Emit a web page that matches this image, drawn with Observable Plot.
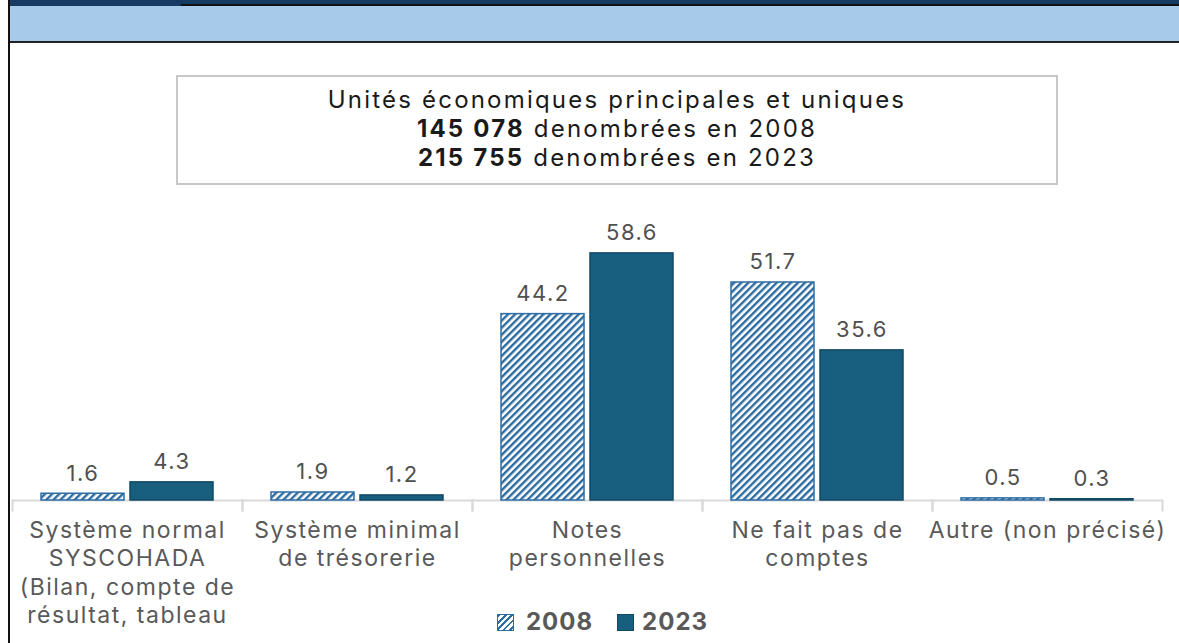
<!DOCTYPE html>
<html><head><meta charset="utf-8">
<script src="https://cdn.jsdelivr.net/npm/d3@7"></script>
<script src="https://cdn.jsdelivr.net/npm/@observablehq/plot@0.6"></script>
<style>
body{margin:0;background:#fff;}
#page{position:relative;width:1179px;height:643px;overflow:hidden;background:#fff;font-family:Inter,"Open Sans",sans-serif;}
#navy{position:absolute;left:10px;top:0;width:1169px;height:4px;background:#173A63;}
#navybox{position:absolute;left:10px;top:0;width:171px;height:6px;background:#173A63;}
#blackline{position:absolute;left:181px;top:4px;width:998px;height:2px;background:#111;}
#band{position:absolute;left:9px;top:6px;width:1170px;height:35px;background:#A7C9EA;border-bottom:2px solid #222;}
#leftline{position:absolute;left:8px;top:0;width:2px;height:643px;background:#111;}
#chart{position:absolute;left:0;top:0;}
#note{position:absolute;left:176px;top:75px;width:882px;height:110px;box-sizing:border-box;border:2px solid #C8C8C8;text-align:center;font-size:24px;letter-spacing:2.2px;line-height:29px;color:#1a1a1a;padding-top:8px;}
#legend{position:absolute;left:497px;top:607px;white-space:nowrap;font-size:24px;letter-spacing:1px;font-weight:700;color:#595959;}
.sw{display:inline-block;width:17px;height:17px;vertical-align:-1px;box-sizing:border-box;}
.sw1{margin-right:12px;border:1.5px solid #2E6DA4;background:repeating-linear-gradient(135deg,#2E6DA4 0 2px,#fff 2px 4.5px);}
.sw2{background:#175E7F;border:1.5px solid #124A66;margin-left:24px;margin-right:8px;}
</style></head><body>
<div id="page">
  <div id="navy"></div>
  <div id="navybox"></div>
  <div id="blackline"></div>
  <div id="band"></div>
  <div id="chart"></div>
  <div id="leftline"></div>
  <div id="note">Unités économiques principales et uniques<br><b>145 078</b> denombrées en 2008<br><b>215 755</b> denombrées en 2023</div>
  <div id="legend"><span class="sw sw1"></span>2008<span class="sw sw2"></span>2023</div>
</div>
<script>
const categories = [
  "Système normal\nSYSCOHADA\n(Bilan, compte de\nrésultat, tableau",
  "Système minimal\nde trésorerie",
  "Notes\npersonnelles",
  "Ne fait pas de\ncomptes",
  "Autre (non précisé)"
];
const years = ["2008", "2023"];
const values2008 = [1.6, 1.9, 44.2, 51.7, 0.5];
const values2023 = [4.3, 1.2, 58.6, 35.6, 0.3];

const data = categories.flatMap((c, i) => [
  {cat: c, year: years[0], value: values2008[i]},
  {cat: c, year: years[1], value: values2023[i]}
]);

const chart = Plot.plot({
  width: 1179,
  height: 643,
  marginLeft: 12,
  marginRight: 17,
  marginTop: 247,
  marginBottom: 143,
  style: {fontFamily: 'Inter, "Open Sans", sans-serif', fontSize: "23px", letterSpacing: "1.5px", background: "transparent", overflow: "visible"},
  fx: {domain: categories, padding: 0, label: null},
  x: {domain: years, paddingInner: 0.067, paddingOuter: 0.318, axis: null},
  y: {domain: [0, 60], axis: null},
  marks: [
    Plot.frame({anchor: "left", insetTop: 253, insetBottom: -10, stroke: "#D9D9D9", strokeWidth: 2}),
    Plot.frame({anchor: "right", insetTop: 253, insetBottom: -10, stroke: "#D9D9D9", strokeWidth: 2}),
    Plot.ruleY([0], {stroke: "#D9D9D9", strokeWidth: 2}),
    Plot.barY(data.filter(d => d.year === "2008"), {fx: "cat", x: "year", y: "value", fill: "url(#hatch)", stroke: "#2E6DA4", strokeWidth: 1.5}),
    Plot.barY(data.filter(d => d.year === "2023"), {fx: "cat", x: "year", y: "value", fill: "#175E7F", stroke: "#124A66", strokeWidth: 1.5}),
    Plot.text(data, {fx: "cat", x: "year", y: "value", text: d => d.value.toFixed(1), lineAnchor: "bottom", dy: -13, fontSize: 22, fill: "#505050"}),
    Plot.axisFx({anchor: "bottom", tickSize: 0, tickPadding: 18, fontSize: 23, lineHeight: 1.22, fill: "#595959", label: null})
  ]
});

const ns = "http://www.w3.org/2000/svg";
const defs = document.createElementNS(ns, "defs");
defs.innerHTML = '<pattern id="hatch" patternUnits="userSpaceOnUse" width="5" height="5" patternTransform="rotate(45)"><rect width="5" height="5" fill="#fff"/><line x1="1.2" y1="0" x2="1.2" y2="5" stroke="#2B6A9E" stroke-width="2.4"/></pattern>';
chart.insertBefore(defs, chart.firstChild);
document.getElementById("chart").appendChild(chart);
</script>
</body></html>
